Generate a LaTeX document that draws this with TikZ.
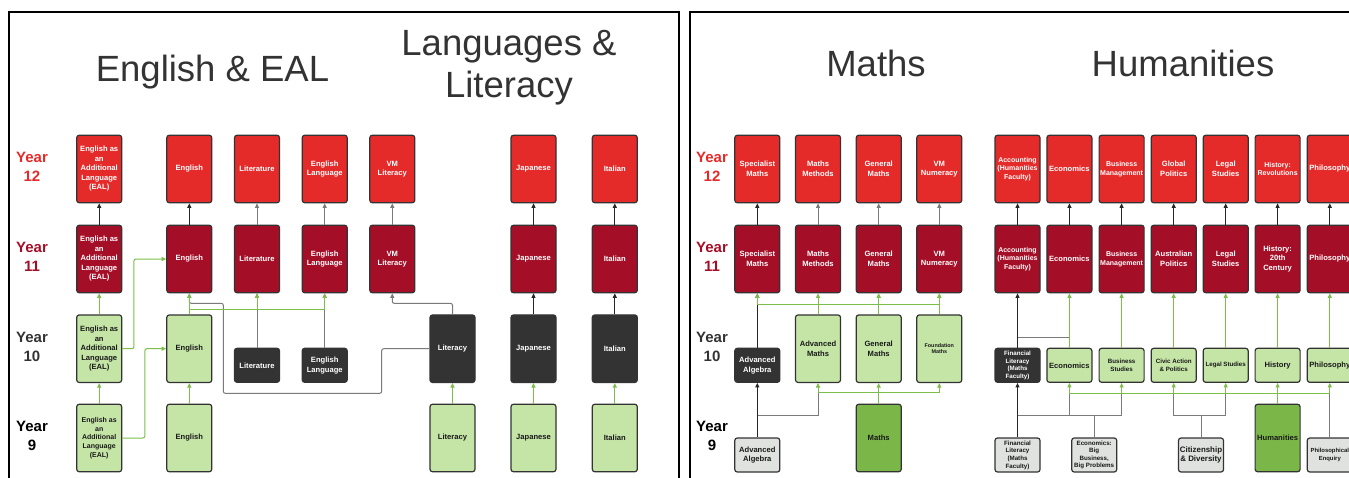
\documentclass[tikz,border=0pt]{standalone}
\usepackage{fontspec}
\setmainfont{Liberation Sans}
\usetikzlibrary{arrows.meta}

\definecolor{redA}{HTML}{E52A2A}
\definecolor{redB}{HTML}{A50E27}
\definecolor{darkbox}{HTML}{333333}
\definecolor{lightgreen}{HTML}{C5E5A7}
\definecolor{midgreen}{HTML}{7AB648}
\definecolor{lightgrey}{HTML}{DFE2DE}
\definecolor{linegreen}{HTML}{7DBE4A}
\definecolor{linegrey}{HTML}{7A7A7A}

\tikzset{
  box/.style={draw=darkbox, line width=1.2pt, rounded corners=2.5pt, minimum width=45pt, minimum height=67.5pt, inner sep=0pt, align=center, text=black!90, font=\bfseries\fontsize{7.6}{9.5}\selectfont},
  short/.style={minimum height=34pt},
  yr12/.style={box, fill=redA, text=white},
  yr11/.style={box, fill=redB, text=white},
  dk/.style={box, fill=darkbox, text=white},
  lt/.style={box, fill=lightgreen},
  md/.style={box, fill=midgreen},
  gy/.style={box, fill=lightgrey},
  fmid/.style={font=\bfseries\fontsize{7}{8.6}\selectfont},
  fsmall/.style={font=\bfseries\fontsize{6.2}{7.6}\selectfont},
  ftiny/.style={font=\bfseries\fontsize{5.4}{6.6}\selectfont},
  yr/.style={align=center, font=\bfseries\fontsize{15}{19}\selectfont},
  ttl/.style={align=center, text=darkbox, font=\fontsize{36.5}{42.6}\selectfont},
  karr/.style={-{Triangle[length=4.5pt,width=4pt]}, draw=black!85, line width=1pt},
  darr/.style={-{Triangle[length=4.5pt,width=4pt]}, draw=linegrey, line width=1pt},
  garr/.style={-{Triangle[length=4.5pt,width=4pt]}, draw=linegreen, line width=1pt},
  dline/.style={draw=linegrey, line width=1pt},
  frame/.style={draw=black, line width=2pt}
}

\begin{document}
\begin{tikzpicture}[x=1pt, y=-1pt]
\useasboundingbox (0,0) rectangle (1349,477);

% panels
\draw[frame] (9,500) -- (9,12) -- (679,12) -- (679,500);
\draw[frame] (690,500) -- (690,12) -- (1370,12);

% titles
\node[ttl, anchor=base] (tteng) at (212.5,81.5) {English \& EAL};
\node[ttl] (ttlang) at (509,67.6) {Languages \&\\Literacy};
\node[ttl, anchor=base] (ttmat) at (876,76.7) {Maths};
\node[ttl, anchor=base] (tthum) at (1183,76.7) {Humanities};

% year labels
\node[yr, text=redA] (ly12) at (32,167) {Year\\12};
\node[yr, text=redB] (ly11) at (32,257) {Year\\11};
\node[yr, text=darkbox] (ly10) at (32,347) {Year\\10};
\node[yr, text=black] (ly9) at (32,436) {Year\\9};
\node[yr, text=redA] (ry12) at (712,167) {Year\\12};
\node[yr, text=redB] (ry11) at (712,257) {Year\\11};
\node[yr, text=darkbox] (ry10) at (712,347) {Year\\10};
\node[yr, text=black] (ry9) at (712,436) {Year\\9};

% english, eal, languages
\node[yr12] (eal12) at (99.2,169) {English as\\an\\Additional\\Language\\(EAL)};
\node[yr12] (eng12) at (189.3,169) {English};
\node[yr12] (lit12) at (257,169) {Literature};
\node[yr12] (el12) at (324.7,169) {English\\Language};
\node[yr12] (vml12) at (392.3,169) {VM\\Literacy};
\node[yr12] (jap12) at (533.5,169) {Japanese};
\node[yr12] (ita12) at (614.8,169) {Italian};

\node[yr11] (eal11) at (99.2,259) {English as\\an\\Additional\\Language\\(EAL)};
\node[yr11] (eng11) at (189.3,259) {English};
\node[yr11] (lit11) at (257,259) {Literature};
\node[yr11] (el11) at (324.7,259) {English\\Language};
\node[yr11] (vml11) at (392.3,259) {VM\\Literacy};
\node[yr11] (jap11) at (533.5,259) {Japanese};
\node[yr11] (ita11) at (614.8,259) {Italian};

\node[lt] (eal10) at (99.2,348.7) {English as\\an\\Additional\\Language\\(EAL)};
\node[lt] (eng10) at (189.3,348.7) {English};
\node[dk, short] (lit10) at (257,365.3) {Literature};
\node[dk, short] (el10) at (324.7,365.3) {English\\Language};
\node[dk] (lcy10) at (452.5,348.7) {Literacy};
\node[dk] (jap10) at (533.5,348.7) {Japanese};
\node[dk] (ita10) at (614.8,348.7) {Italian};

\node[lt, fmid] (eal9) at (99.2,438) {English as\\an\\Additional\\Language\\(EAL)};
\node[lt] (eng9) at (189.3,438) {English};
\node[lt] (lcy9) at (452.5,438) {Literacy};
\node[lt] (jap9) at (533.5,438) {Japanese};
\node[lt] (ita9) at (614.8,438) {Italian};

% maths
\node[yr12] (spec12) at (757.3,169) {Specialist\\Maths};
\node[yr12] (meth12) at (818,169) {Maths\\Methods};
\node[yr12] (genm12) at (878.7,169) {General\\Maths};
\node[yr12] (vmn12) at (939.3,169) {VM\\Numeracy};

\node[yr11] (spec11) at (757.3,259) {Specialist\\Maths};
\node[yr11] (meth11) at (818,259) {Maths\\Methods};
\node[yr11] (genm11) at (878.7,259) {General\\Maths};
\node[yr11] (vmn11) at (939.3,259) {VM\\Numeracy};

\node[dk, short] (alg10) at (757.3,365.3) {Advanced\\Algebra};
\node[lt] (advm10) at (818,348.7) {Advanced\\Maths};
\node[lt] (genm10) at (878.7,348.7) {General\\Maths};
\node[lt, ftiny] (fdm10) at (939.3,348.7) {Foundation\\Maths};

\node[gy, short] (alg9) at (757.3,455) {Advanced\\Algebra};
\node[md] (maths9) at (878.7,438) {Maths};

% humanities
\node[yr12, fmid] (acc12) at (1017.5,169) {Accounting\\(Humanities\\Faculty)};
\node[yr12] (econ12) at (1069.4,169) {Economics};
\node[yr12, fmid] (bus12) at (1121.6,169) {Business\\Management};
\node[yr12] (pol12) at (1173.7,169) {Global\\Politics};
\node[yr12] (leg12) at (1225.7,169) {Legal\\Studies};
\node[yr12, fmid] (hist12) at (1277.6,169) {History:\\Revolutions};
\node[yr12] (phil12) at (1329.8,169) {Philosophy};

\node[yr11, fmid] (acc11) at (1017.5,259) {Accounting\\(Humanities\\Faculty)};
\node[yr11] (econ11) at (1069.4,259) {Economics};
\node[yr11, fmid] (bus11) at (1121.6,259) {Business\\Management};
\node[yr11] (pol11) at (1173.7,259) {Australian\\Politics};
\node[yr11] (leg11) at (1225.7,259) {Legal\\Studies};
\node[yr11] (hist11) at (1277.6,259) {History:\\20th\\Century};
\node[yr11] (phil11) at (1329.8,259) {Philosophy};

\node[dk, short, fsmall] (fin10) at (1017.5,365.3) {Financial\\Literacy\\(Maths\\Faculty)};
\node[lt, short] (econ10) at (1069.4,365.3) {Economics};
\node[lt, short, fsmall] (bus10) at (1121.6,365.3) {Business\\Studies};
\node[lt, short, fsmall] (civ10) at (1173.7,365.3) {Civic Action\\\& Politics};
\node[lt, short, fsmall] (leg10) at (1225.7,365.3) {Legal Studies};
\node[lt, short] (hist10) at (1277.6,365.3) {History};
\node[lt, short] (phil10) at (1329.8,365.3) {Philosophy};

\node[gy, short, fsmall] (fin9) at (1017.5,455) {Financial\\Literacy\\(Maths\\Faculty)};
\node[gy, short, fsmall] (big9) at (1094.2,455) {Economics:\\Big\\Business,\\Big Problems};
\node[gy, short, font=\bfseries\fontsize{7.9}{9.6}\selectfont] (cit9) at (1201,455) {Citizenship\\\& Diversity};
\node[md] (hum9) at (1277.6,438) {Humanities};
\node[gy, short, font=\bfseries\fontsize{5.9}{7.4}\selectfont] (phen9) at (1329.8,455) {Philosophical\\Enquiry};

% bends and bus levels
\coordinate (bendA) at (381.7,393.3);
\coordinate (bendB) at (223.3,303.3);
\coordinate (lbus) at (0,309.3);
\coordinate (mtop) at (0,304);
\coordinate (mlow) at (0,392);
\coordinate (mfork) at (0,415);
\coordinate (hjoin) at (0,337.3);
\coordinate (hbus) at (0,393.3);
\coordinate (hfork) at (0,415.7);

% english, eal, languages connectors
\foreach \c in {eal,eng,jap,ita} \draw[karr] (\c11) -- (\c12);
\foreach \c in {lit,el,vml} \draw[darr] (\c11) -- (\c12);
\draw[darr] (lit10) -- (lit11);
\draw[darr] (el10) -- (el11);
\draw[darr, rounded corners=2pt] (lcy10.west) -| (bendA) -| (bendB) -| (eng11.south);
\draw[darr, rounded corners=2pt] (lcy10.north) -- ++(0,-11) -| (vml11.south);
\draw[karr] (jap10) -- (jap11);
\draw[karr] (ita10) -- (ita11);
\draw[garr] (eal10) -- (eal11);
\draw[garr, rounded corners=2pt] (eal10.east) -- ++(11.6,0) |- (eng11.west);
\draw[garr] (eng10) -- (eng11);
\draw[garr] (eng10.north) |- (lit11.south |- lbus) -- (lit11.south);
\draw[garr] (eng10.north) |- (el11.south |- lbus) -- (el11.south);
\draw[garr] (eal9) -- (eal10);
\draw[garr, rounded corners=2pt] (eal9.east) -- ++(22.6,0) |- (eng10.west);
\foreach \c in {eng,lcy,jap,ita} \draw[garr] (\c9) -- (\c10);

% maths connectors
\draw[karr] (spec11) -- (spec12);
\foreach \c in {meth,genm,vmn} \draw[darr] (\c11) -- (\c12);
\draw[karr] (alg10) -- (spec11);
\foreach \a/\b in {advm10/spec11, advm10/meth11, advm10/genm11, genm10/genm11, genm10/vmn11, fdm10/vmn11}
  \draw[garr] (\a.north) |- (\b.south |- mtop) -- (\b.south);
\draw[dline] (alg9.north) |- (advm10.south |- mfork) -- (advm10.south |- mlow);
\draw[karr] (alg9) -- (alg10);
\foreach \b in {advm10,genm10,fdm10}
  \draw[garr] (maths9.north) |- (\b.south |- mlow) -- (\b.south);

% humanities connectors
\foreach \c in {acc,econ,bus,pol,leg,hist,phil} \draw[karr] (\c11) -- (\c12);
\draw[dline] (econ10.north) |- (acc11.south |- hjoin);
\draw[karr] (fin10) -- (acc11);
\foreach \a/\b in {econ10/econ11, bus10/bus11, civ10/pol11, leg10/leg11, hist10/hist11, phil10/phil11}
  \draw[garr] (\a) -- (\b);
\draw[dline] (big9.north) |- (fin10.south |- hfork);
\foreach \b in {econ10,bus10} \draw[dline] (big9.north) |- (\b.south |- hfork) -- (\b.south |- hbus);
\foreach \b in {civ10,leg10} \draw[dline] (cit9.north) |- (\b.south |- hfork) -- (\b.south |- hbus);
\draw[dline] (phen9) -- (phil10.south |- hbus);
\draw[karr] (fin9) -- (fin10);
\foreach \b in {econ10,bus10,civ10,leg10,hist10,phil10}
  \draw[garr] (hum9.north) |- (\b.south |- hbus) -- (\b.south);

\end{tikzpicture}
\end{document}
